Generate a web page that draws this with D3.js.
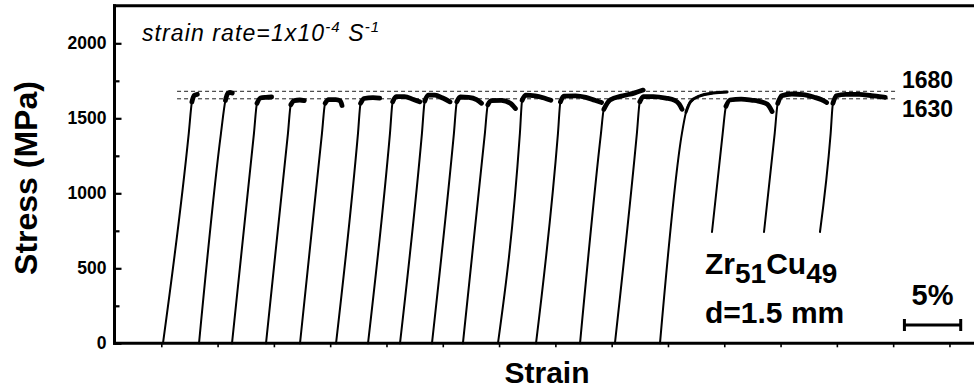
<!DOCTYPE html>
<html>
<head>
<meta charset="utf-8">
<script src="https://cdn.jsdelivr.net/npm/d3@7"></script>
<style>
  html, body { margin: 0; padding: 0; background: #fff; }
  svg { display: block; font-family: Arial, "Liberation Sans", Helvetica, sans-serif; }
</style>
</head>
<body>
<svg id="chart" width="974" height="389"></svg>
<script>
// Axis ticks
const stressTicks = [0, 500, 1000, 1500, 2000];
const stressMinorTicks = [250, 750, 1250, 1750];
const strainTicks = [5, 10, 15, 20, 25, 30, 35, 40, 45, 50, 55, 60, 65, 70, 75];

// Reference stress levels (MPa) and the strain span of their guide lines
const refLevels = [1680, 1630];
const refSpan = [6.4, 70.4];

// Scale bar: 5 % strain
const scaleBar = [71, 76];

// Compression loading curves, [strain %, stress MPa], shifted along strain
const curve01 = [[5.15, 0], [7.44, 1400], [7.72, 1610], [7.92, 1652], [8.2, 1660]];
const curve02 = [[8.35, 0], [10.3, 1400], [10.7, 1620], [10.9, 1665], [11.1, 1672], [11.3, 1668]];
const curve03 = [[11.28, 0], [13.23, 1400], [13.5, 1600], [13.8, 1635], [14.3, 1640], [14.8, 1642]];
const curve04 = [[14.3, 0], [16.25, 1400], [16.5, 1590], [16.8, 1618], [17.3, 1622], [17.7, 1618]];
const curve05 = [[17.32, 0], [19.27, 1400], [19.55, 1600], [19.85, 1625], [20.5, 1625], [20.9, 1615], [21.05, 1585]];
const curve06 = [[20.52, 0], [22.47, 1400], [22.7, 1600], [23.0, 1632], [23.8, 1638], [24.4, 1635]];
const curve07 = [[23.36, 0], [25.31, 1400], [25.55, 1610], [25.85, 1645], [26.6, 1645], [27.4, 1625], [27.95, 1610]];
const curve08 = [[26.2, 0], [28.15, 1400], [28.4, 1615], [28.7, 1655], [29.3, 1655], [30.0, 1635], [30.65, 1610]];
const curve09 = [[29.04, 0], [30.99, 1400], [31.25, 1610], [31.55, 1642], [32.3, 1640], [33.0, 1625], [33.45, 1600]];
const curve10 = [[31.79, 0], [33.74, 1400], [34.0, 1590], [34.3, 1618], [35.2, 1620], [36.0, 1600], [36.45, 1565]];
const curve11 = [[34.9, 0], [36.85, 1400], [37.05, 1620], [37.35, 1655], [38.2, 1650], [39.0, 1635], [39.6, 1620]];
const curve12 = [[38.28, 0], [40.23, 1400], [40.45, 1610], [40.75, 1648], [41.8, 1650], [42.7, 1640], [43.5, 1620], [44.1, 1605]];
const curve13 = [[42.19, 0], [44.05, 1400], [44.3, 1560], [44.85, 1622], [46.0, 1650], [47.0, 1668], [47.8, 1688]];
const curve14 = [[45.29, 0], [47.24, 1400], [47.5, 1610], [47.8, 1645], [48.7, 1645], [49.8, 1635], [50.6, 1620], [51.0, 1595], [51.25, 1560]];
const curve15 = [[49.29, 0], [51.24, 1400], [51.6, 1540], [52.0, 1610], [52.85, 1650], [54.0, 1668], [55.25, 1676]];
const curve16 = [[53.91, 742], [54.86, 1400], [55.15, 1580], [55.5, 1622], [56.5, 1628], [57.5, 1620], [58.0, 1615], [58.8, 1595], [59.25, 1545]];
const curve17 = [[58.53, 742], [59.48, 1400], [59.75, 1600], [60.1, 1650], [61.0, 1662], [62.0, 1658], [63.0, 1640], [63.6, 1625], [64.1, 1605]];
const curve18 = [[63.5, 742], [64.45, 1400], [64.65, 1600], [64.95, 1650], [65.8, 1660], [67.0, 1660], [68.0, 1652], [68.8, 1645], [69.3, 1640]];

const curves = [curve01, curve02, curve03, curve04, curve05, curve06, curve07, curve08, curve09,
                curve10, curve11, curve12, curve13, curve14, curve15, curve16, curve17, curve18];

// ---- layout ----
const svg = d3.select("#chart");
const x = d3.scaleLinear().domain([0.8, 77.18]).range([114, 974]);
const y = d3.scaleLinear().domain([0, 2250]).range([343.3, 5.8]);

const line = d3.line()
  .x(d => x(d[0]))
  .y(d => y(d[1]))
  .curve(d3.curveMonotoneX);

// guide lines for the flow stress levels
svg.append("g").selectAll("line").data(refLevels).join("line")
  .attr("x1", x(refSpan[0])).attr("x2", x(refSpan[1]))
  .attr("y1", d => y(d)).attr("y2", d => y(d))
  .attr("stroke", "#222").attr("stroke-width", 1)
  .attr("stroke-dasharray", "4,3");

// loading curves: thin elastic branch plus a heavier serrated-flow band
const curveG = svg.append("g").attr("fill", "none").attr("stroke", "#000")
  .attr("stroke-linejoin", "round").attr("stroke-linecap", "round");
curveG.selectAll("path.rise").data(curves).join("path")
  .attr("class", "rise")
  .attr("d", d => line(d))
  .attr("stroke-width", 2);
curveG.selectAll("path.flow").data(curves).join("path")
  .attr("class", "flow")
  .attr("d", d => line(d.slice(2)))
  .attr("stroke-width", (d, i) => i === 14 ? 3 : 4.8);

// frame
const frame = svg.append("g").attr("stroke", "#000").attr("stroke-width", 3);
frame.append("line").attr("x1", 114.5).attr("x2", 114.5).attr("y1", 4.3).attr("y2", 344.8);
frame.append("line").attr("x1", 113).attr("x2", 974).attr("y1", y(2250)).attr("y2", y(2250));
frame.append("line").attr("x1", 113).attr("x2", 974).attr("y1", y(0)).attr("y2", y(0));

// stress axis (ticks point inward)
const yAxis = svg.append("g").attr("transform", "translate(114.5,0)")
  .call(d3.axisLeft(y).tickValues(stressTicks).tickSize(-7).tickPadding(8).tickFormat(d3.format("d")));
yAxis.select(".domain").remove();
yAxis.selectAll(".tick line").attr("stroke-width", 2.2);
yAxis.selectAll(".tick text")
  .attr("font-size", 17.5).attr("font-weight", "bold").attr("fill", "#000")
  .attr("font-family", "Arial, 'Liberation Sans', sans-serif");

const yMinor = svg.append("g").attr("transform", "translate(114.5,0)")
  .call(d3.axisLeft(y).tickValues(stressMinorTicks).tickSize(-5).tickFormat(""));
yMinor.select(".domain").remove();
yMinor.selectAll(".tick line").attr("stroke-width", 2.2);

// strain axis: unlabelled ticks
const xAxis = svg.append("g").attr("transform", `translate(0,${y(0)})`)
  .call(d3.axisBottom(x).tickValues(strainTicks).tickSize(4).tickFormat(""));
xAxis.select(".domain").remove();
xAxis.selectAll(".tick line").attr("stroke-width", 1.6);

// axis titles
svg.append("text")
  .attr("transform", "translate(37,178) rotate(-90)")
  .attr("text-anchor", "middle")
  .attr("font-size", 32).attr("font-weight", "bold")
  .text("Stress (MPa)");
svg.append("text")
  .attr("x", 547).attr("y", 383)
  .attr("text-anchor", "middle")
  .attr("font-size", 30).attr("font-weight", "bold")
  .text("Strain");

// strain-rate note
const rate = svg.append("text")
  .attr("x", 142).attr("y", 41)
  .attr("font-size", 23).attr("font-style", "italic")
  .attr("letter-spacing", 1.1);
rate.append("tspan").text("strain rate=1x10");
rate.append("tspan").attr("font-size", 15).attr("dy", -9).text("-4");
rate.append("tspan").attr("dy", 9).text(" S");
rate.append("tspan").attr("font-size", 15).attr("dy", -9).text("-1");

// reference level labels
svg.append("text").attr("x", 902).attr("y", y(refLevels[0]) - 3)
  .attr("font-size", 23).attr("font-weight", "bold").text(refLevels[0]);
svg.append("text").attr("x", 902).attr("y", y(refLevels[1]) + 18)
  .attr("font-size", 23).attr("font-weight", "bold").text(refLevels[1]);

// alloy and sample diameter
const alloy = svg.append("text").attr("x", 705).attr("y", 274)
  .attr("font-size", 30).attr("font-weight", "bold");
alloy.append("tspan").text("Zr");
alloy.append("tspan").attr("font-size", 28).attr("dy", 9).text("51");
alloy.append("tspan").attr("dy", -9).text("Cu");
alloy.append("tspan").attr("font-size", 28).attr("dy", 9).text("49");
svg.append("text").attr("x", 705).attr("y", 323)
  .attr("font-size", 30).attr("font-weight", "bold").text("d=1.5 mm");

// 5 % strain scale bar
const bar = svg.append("g").attr("stroke", "#000").attr("stroke-width", 3);
bar.append("line").attr("x1", x(scaleBar[0])).attr("x2", x(scaleBar[1])).attr("y1", 325).attr("y2", 325);
bar.append("line").attr("x1", x(scaleBar[0])).attr("x2", x(scaleBar[0])).attr("y1", 319).attr("y2", 331);
bar.append("line").attr("x1", x(scaleBar[1])).attr("x2", x(scaleBar[1])).attr("y1", 319).attr("y2", 331);
svg.append("text").attr("x", (x(scaleBar[0]) + x(scaleBar[1])) / 2).attr("y", 305)
  .attr("text-anchor", "middle").attr("font-size", 29).attr("font-weight", "bold").text("5%");
</script>
</body>
</html>
